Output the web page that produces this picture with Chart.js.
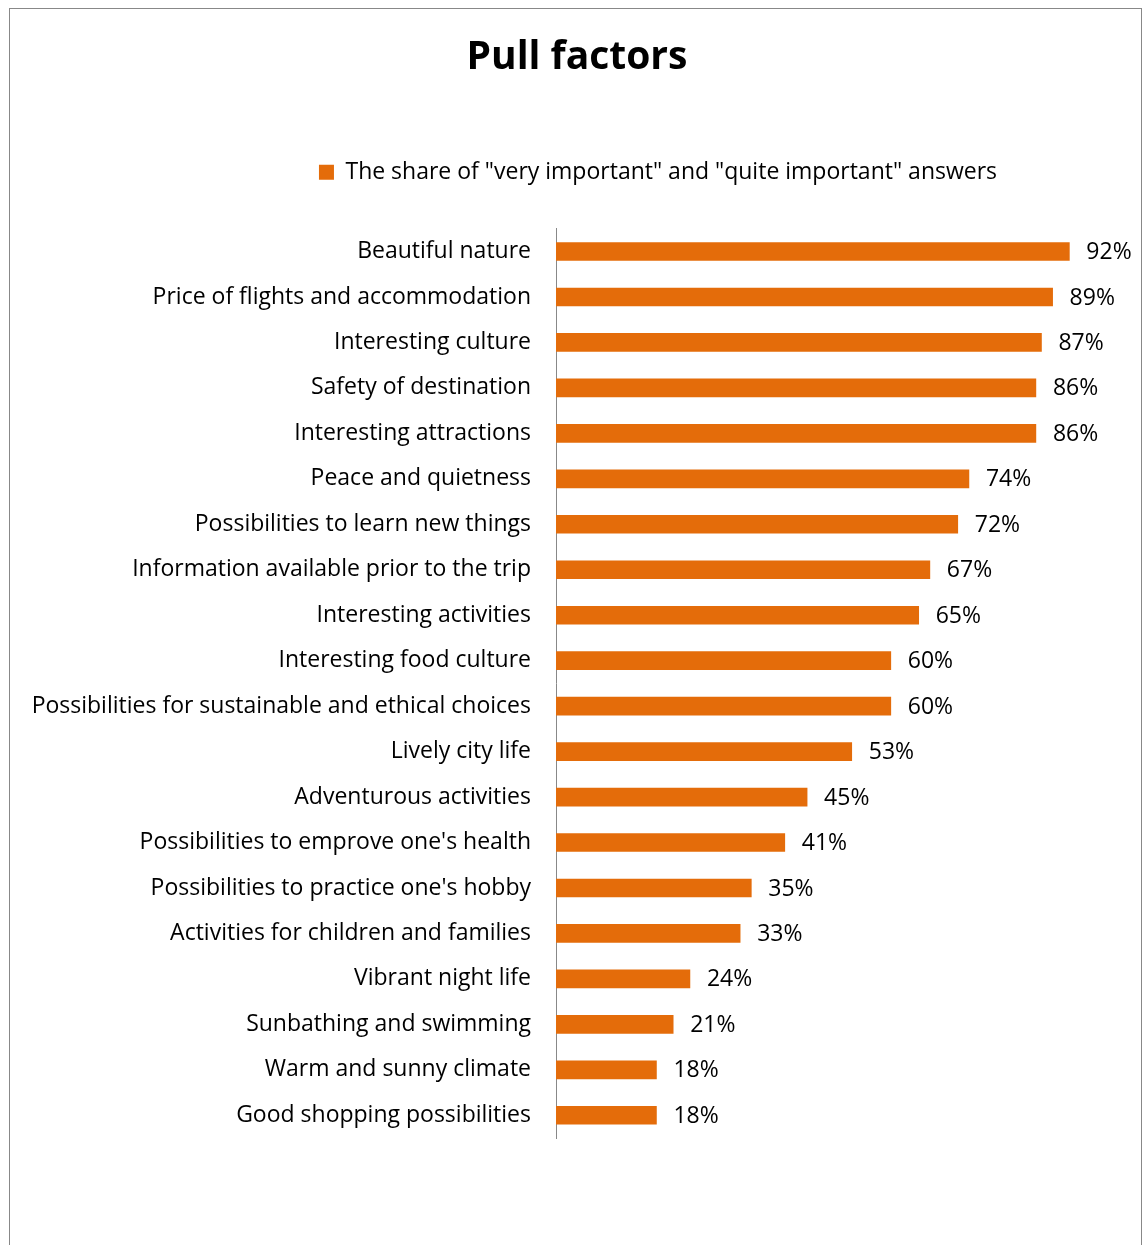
<!DOCTYPE html>
<html>
<head>
<meta charset="utf-8">
<script src="https://cdn.jsdelivr.net/npm/chart.js@4/dist/chart.umd.min.js"></script>
<style>
  html, body { margin: 0; padding: 0; background: #fff; }
  #frame {
    position: absolute; left: 9px; top: 8px; width: 1131px; height: 1260px;
    border: 1px solid #888; border-bottom: none;
  }
  #wrap { position: absolute; left: 0; top: 0; width: 1144px; height: 1245px; }
</style>
</head>
<body>
<div id="frame"></div>
<div id="wrap"><canvas id="chart"></canvas></div>
<script>
const categories = [
  "Beautiful nature",
  "Price of flights and accommodation",
  "Interesting culture",
  "Safety of destination",
  "Interesting attractions",
  "Peace and quietness",
  "Possibilities to learn new things",
  "Information available prior to the trip",
  "Interesting activities",
  "Interesting food culture",
  "Possibilities for sustainable and ethical choices",
  "Lively city life",
  "Adventurous activities",
  "Possibilities to emprove one's health",
  "Possibilities to practice one's hobby",
  "Activities for children and families",
  "Vibrant night life",
  "Sunbathing and swimming",
  "Warm and sunny climate",
  "Good shopping possibilities"
];
const shares = [92, 89, 87, 86, 86, 74, 72, 67, 65, 60, 60, 53, 45, 41, 35, 33, 24, 21, 18, 18];
const seriesLabel = 'The share of "very important" and "quite important" answers';

const FONT = "'Open Sans', sans-serif";
const ORANGE = "#e46c0a";

// value labels drawn just past the end of each bar
const barValues = {
  id: "barValues",
  afterDatasetsDraw(chart) {
    const ctx = chart.ctx;
    const meta = chart.getDatasetMeta(0);
    ctx.save();
    ctx.font = `23px ${FONT}`;
    ctx.fillStyle = "#000";
    ctx.textBaseline = "middle";
    ctx.textAlign = "left";
    meta.data.forEach((bar, i) => {
      ctx.fillText(shares[i] + "%", bar.x + 17, bar.y + 1);
    });
    ctx.restore();
  }
};

// legend sits right of centre, title a touch right too (Excel-style)
const nudgeBoxes = {
  id: "nudgeBoxes",
  afterLayout(chart) {
    if (chart.legend) {
      chart.legend.left += 92;
      chart.legend.right += 92;
    }
    if (chart.titleBlock) {
      chart.titleBlock.left += 11;
      chart.titleBlock.right += 11;
    }
  }
};

new Chart(document.getElementById("chart"), {
  type: "bar",
  data: {
    labels: categories,
    datasets: [{
      label: seriesLabel,
      data: shares,
      backgroundColor: ORANGE,
      borderWidth: 0,
      barThickness: 18
    }]
  },
  options: {
    indexAxis: "y",
    responsive: true,
    maintainAspectRatio: false,
    animation: false,
    layout: { padding: { left: 18, right: 30, top: 0, bottom: 107 } },
    scales: {
      // hidden value axis; kept on top only to leave room under the legend
      x: {
        position: "top",
        min: 0,
        max: 100,
        grid: { display: false },
        border: { display: false },
        ticks: { display: false },
        afterFit(scale) { scale.height = 35; }
      },
      y: {
        grid: { display: false, drawTicks: false },
        border: { display: true, color: "#888", width: 1 },
        ticks: { color: "#000", padding: 25, font: { family: FONT, size: 23 } },
        afterFit(scale) { scale.width = 556 - 18; }
      }
    },
    plugins: {
      title: {
        display: true,
        text: "Pull factors",
        color: "#000",
        font: { family: FONT, size: 39, weight: "bold" },
        padding: { top: 34, bottom: 70 }
      },
      legend: {
        display: true,
        position: "top",
        labels: {
          color: "#000",
          boxWidth: 15,
          boxHeight: 15,
          font: { family: FONT, size: 23 },
          padding: 10
        }
      },
      tooltip: { enabled: false }
    }
  },
  plugins: [barValues, nudgeBoxes]
});
</script>
</body>
</html>
